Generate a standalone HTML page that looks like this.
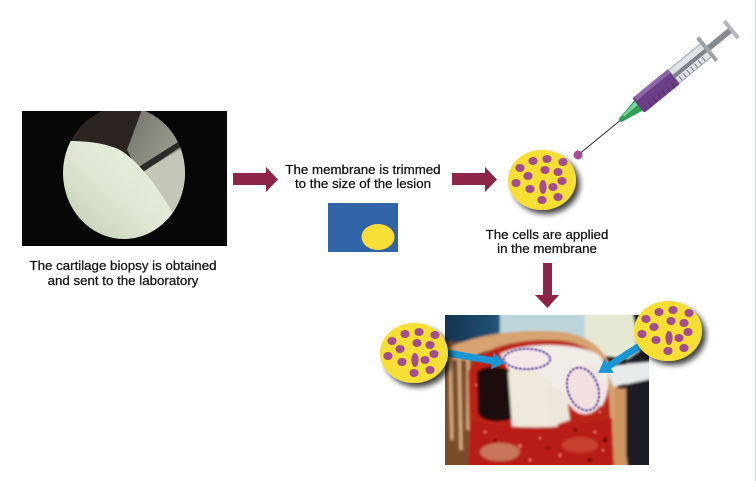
<!DOCTYPE html>
<html><head><meta charset="utf-8"><style>
html,body{margin:0;padding:0;background:#fff;}
svg{display:block;}
text{font-family:"Liberation Sans",sans-serif;font-size:13.3px;fill:#111;stroke:#111;stroke-width:0.25px;}
</style></head><body>
<svg width="756" height="481" viewBox="0 0 756 481" xmlns="http://www.w3.org/2000/svg">
<defs>
  <filter id="sh" x="-40%" y="-40%" width="190%" height="190%">
    <feGaussianBlur in="SourceAlpha" stdDeviation="3"/>
    <feOffset dx="4" dy="4" result="o"/>
    <feComponentTransfer><feFuncA type="linear" slope="0.75"/></feComponentTransfer>
    <feMerge><feMergeNode/><feMergeNode in="SourceGraphic"/></feMerge>
  </filter>
  <filter id="bl" x="-10%" y="-10%" width="120%" height="120%"><feGaussianBlur stdDeviation="1.2"/></filter>
  <filter id="bl2" x="-10%" y="-10%" width="120%" height="120%"><feGaussianBlur stdDeviation="0.8"/></filter>
  <g id="cells">
    <ellipse cx="0" cy="0" rx="34" ry="30" fill="#f5df34"/>
    <g fill="#a24e90">
      <ellipse cx="-9" cy="-19" rx="4.6" ry="4"/>
      <ellipse cx="5" cy="-21" rx="4.6" ry="4"/>
      <ellipse cx="21" cy="-18" rx="4.6" ry="4"/>
      <ellipse cx="-22" cy="-12" rx="4.6" ry="4"/>
      <ellipse cx="-14" cy="-4" rx="4.6" ry="4"/>
      <ellipse cx="3" cy="-10" rx="4.6" ry="4"/>
      <ellipse cx="16" cy="-8" rx="4.6" ry="4"/>
      <ellipse cx="-26" cy="3" rx="4.6" ry="4"/>
      <ellipse cx="-12" cy="9" rx="4.6" ry="4"/>
      <ellipse cx="1" cy="7" rx="3.6" ry="7"/>
      <ellipse cx="11" cy="7" rx="4.6" ry="4"/>
      <ellipse cx="20" cy="1" rx="4.6" ry="4"/>
      <ellipse cx="0" cy="20" rx="4.6" ry="4"/>
      <ellipse cx="16" cy="17" rx="4.6" ry="4"/>
    </g>
  </g>
  <linearGradient id="gc" x1="1" y1="0" x2="0" y2="1">
    <stop offset="0" stop-color="#eef2e4"/><stop offset="0.45" stop-color="#e0e7d4"/><stop offset="1" stop-color="#b5c4a4"/>
  </linearGradient>
  <linearGradient id="gi" x1="0" y1="0" x2="1" y2="1">
    <stop offset="0" stop-color="#707068"/><stop offset="0.5" stop-color="#9a9b8e"/><stop offset="1" stop-color="#c4c7b6"/>
  </linearGradient>
  <linearGradient id="gd" x1="0" y1="0" x2="1" y2="0">
    <stop offset="0" stop-color="#13304a"/><stop offset="1" stop-color="#22567a"/>
  </linearGradient>
  <clipPath id="r1"><rect x="22" y="111" width="205" height="135"/></clipPath>
  <clipPath id="e1"><ellipse cx="124" cy="173" rx="61" ry="66"/></clipPath>
  <clipPath id="r2"><rect x="445" y="315" width="204" height="150"/></clipPath>
</defs>

<!-- right border line -->
<rect x="755" y="0" width="1" height="481" fill="#c9d5de"/>

<!-- Photo 1: arthroscopy -->
<rect x="22" y="111" width="205" height="135" fill="#060607"/>
<g clip-path="url(#r1)">
  <g clip-path="url(#e1)">
    <rect x="55" y="100" width="140" height="160" fill="#2c2420"/>
    <path d="M144,104 L200,104 L200,240 L172,232 L127,150 Z" fill="url(#gi)"/>
    <path d="M140,173 L200,138 L200,240 L172,232 Z" fill="#c4c7b8"/>
    <path d="M137,168 L186,137 L188,142 L140,174 Z" fill="#2a2a26"/>
    <path d="M50,141 L70,141 C90,141 108,144 120,150 C140,162 160,190 178,222 L180,260 L50,260 Z" fill="url(#gc)"/>
    <path d="M58,196 L64,200 L60,203 Z" fill="#e6ecdc"/>
  </g>
</g>
<text x="123" y="270" text-anchor="middle">The cartilage biopsy is obtained</text>
<text x="123" y="285" text-anchor="middle">and sent to the laboratory</text>

<!-- Arrow 1 -->
<polygon points="233,173 266,173 266,167 278,179.5 266,192 266,185 233,185" fill="#8c2549"/>

<!-- Membrane -->
<text x="363" y="174" text-anchor="middle">The membrane is trimmed</text>
<text x="363" y="188" text-anchor="middle">to the size of the lesion</text>
<rect x="328" y="203" width="70" height="49" fill="#3064a6"/>
<ellipse cx="378" cy="237" rx="16.5" ry="13" fill="#f7dd34"/>

<!-- Arrow 2 -->
<polygon points="452,173 485,173 485,167 497,179.5 485,192 485,185 452,185" fill="#8c2549"/>

<!-- Cells circle -->
<use href="#cells" transform="translate(542,180)" filter="url(#sh)"/>

<!-- Syringe -->
<g transform="translate(578,155) rotate(-39.3)">
  <line x1="4" y1="0" x2="56" y2="0" stroke="#2a2a2a" stroke-width="1"/>
  <polygon points="54,-2 70,-5 80,-7 80,7 70,5 54,2" fill="#2f9e58"/>
  <polygon points="60,-2.5 78,-5 78,-1 60,-0.5" fill="#7fd39a"/>
  <rect x="78" y="-9.5" width="46" height="19" rx="2" fill="#6b3e86"/>
  <rect x="80" y="-9.5" width="44" height="4.5" fill="#8c66a6"/>
  <g stroke="#4a2a5e" stroke-width="0.8">
    <line x1="88" y1="4" x2="88" y2="9"/><line x1="94" y1="4" x2="94" y2="9"/><line x1="100" y1="4" x2="100" y2="9"/><line x1="106" y1="4" x2="106" y2="9"/><line x1="112" y1="4" x2="112" y2="9"/><line x1="118" y1="4" x2="118" y2="9"/>
  </g>
  <rect x="124" y="-8.5" width="43" height="17" fill="#dfe3e8" stroke="#8f96a0" stroke-width="0.8"/>
  <rect x="124" y="-2" width="43" height="4" fill="#7d828a"/>
  <g stroke="#555b66" stroke-width="0.8">
    <line x1="128" y1="3" x2="128" y2="8"/><line x1="133" y1="3" x2="133" y2="8"/><line x1="138" y1="3" x2="138" y2="8"/><line x1="143" y1="3" x2="143" y2="8"/><line x1="148" y1="3" x2="148" y2="8"/><line x1="153" y1="3" x2="153" y2="8"/><line x1="158" y1="3" x2="158" y2="8"/>
  </g>
  <rect x="165" y="-15" width="4" height="30" fill="#9ea3a8"/>
  <rect x="169" y="-3" width="28" height="6" fill="#868a90"/>
  <rect x="196" y="-11" width="4" height="22" fill="#b3b7bc"/>
</g>
<circle cx="578" cy="155" r="4.5" fill="#a24e90"/>

<text x="547" y="239" text-anchor="middle">The cells are applied</text>
<text x="547" y="253" text-anchor="middle">in the membrane</text>

<!-- Down arrow -->
<polygon points="543,263 552,263 552,295 559,295 547.5,308 535,295 543,295" fill="#8c2549"/>

<!-- Photo 2: surgery -->
<g clip-path="url(#r2)">
  <rect x="445" y="315" width="204" height="150" fill="#2a1512"/>
  <g filter="url(#bl)">
    <polygon points="440,310 503,310 503,338 440,346" fill="url(#gd)"/>
    <polygon points="500,310 592,310 592,340 500,342" fill="#bcd5dc"/>
    <polygon points="585,310 640,310 646,330 640,360 600,356 585,340" fill="#e6e9d4"/>
    <polygon points="632,310 655,310 655,470 626,470 626,360 640,350" fill="#1c1e26"/>
    <!-- left skin fold -->
    <rect x="440" y="342" width="36" height="130" fill="#7a4e2c"/>
    <g stroke="#d8b183" stroke-width="3">
      <line x1="450" y1="355" x2="452" y2="440"/>
      <line x1="459" y1="350" x2="461" y2="450"/>
      <line x1="468" y1="350" x2="468" y2="430"/>
    </g>
    <!-- tan skin arc -->
    <path d="M440,352 C470,336 505,330 550,331 C585,332 605,345 616,378 L628,470 L612,470 L604,380 C596,355 575,344 545,343 C505,343 480,352 470,360 L445,360 Z" fill="#d7a371"/>
    <!-- red mass -->
    <path d="M470,470 L468,372 C474,352 505,340 548,340 C585,340 600,354 608,380 L614,470 Z" fill="#bb2219"/>
    <!-- dark cavity -->
    <path d="M477,372 C485,364 505,366 512,372 L514,418 C500,424 484,422 478,414 Z" fill="#1c0808"/>
    <!-- cartilage top -->
    <path d="M500,354 C518,344 568,340 598,354 C612,370 610,392 602,406 L562,404 L516,382 Z" fill="#f2ece6"/>
    <!-- left condyle -->
    <path d="M508,372 C528,364 552,374 556,394 L558,430 C546,442 520,440 512,426 Z" fill="#efe9dc"/>
    <!-- right condyle -->
    <ellipse cx="585" cy="389" rx="20" ry="25" fill="#f3e6e2"/>
    <!-- small white piece -->
    <path d="M547,385 L566,392 L570,420 L552,426 Z" fill="#ece6dc"/>
    <!-- lower red -->
    <path d="M470,420 C500,428 560,432 612,418 L614,470 L468,470 Z" fill="#b81d18"/>
    <ellipse cx="500" cy="452" rx="20" ry="9" fill="#c9765c"/>
    <ellipse cx="580" cy="445" rx="18" ry="8" fill="#c8402e"/>
    <!-- instrument -->
    <polygon points="604,366 649,362 655,362 655,378 614,387" fill="#e6eaea"/>
    <rect x="614" y="388" width="12" height="82" fill="#cf9464"/>
  </g>
  <!-- mottling -->
  <g filter="url(#bl2)">
    <g fill="#e06a5a" opacity="0.8">
      <circle cx="485" cy="432" r="2"/><circle cx="520" cy="446" r="2.5"/><circle cx="540" cy="438" r="1.8"/>
      <circle cx="560" cy="455" r="2.2"/><circle cx="595" cy="432" r="2"/><circle cx="603" cy="450" r="1.8"/>
      <circle cx="476" cy="385" r="1.6"/><circle cx="600" cy="412" r="1.8"/><circle cx="530" cy="460" r="2"/>
    </g>
    <g fill="#5a0a08" opacity="0.8">
      <circle cx="575" cy="430" r="1.8"/><circle cx="590" cy="460" r="2.2"/><circle cx="605" cy="440" r="2.5"/>
      <circle cx="548" cy="448" r="1.5"/><circle cx="495" cy="440" r="1.5"/>
    </g>
  </g>
  <g filter="url(#bl2)">
    <ellipse cx="527" cy="359" rx="23" ry="10" fill="#f5e6e8" stroke="#5a3aa0" stroke-width="2" stroke-dasharray="3 1"/>
    <ellipse cx="583" cy="389" rx="15" ry="22" transform="rotate(-20 583 389)" fill="#f2dfe2" stroke="#5a3aa0" stroke-width="2" stroke-dasharray="3 1"/>
  </g>
</g>

<!-- Blue arrows -->
<g transform="translate(447,353) rotate(9.8)">
  <polygon points="0,-3.5 46,-3.5 46,-8.5 59,0 46,8.5 46,3.5 0,3.5" fill="#1b96d5"/>
</g>
<g transform="translate(641,345) rotate(146.9)">
  <polygon points="0,-3.5 38,-3.5 38,-8.5 51,0 38,8.5 38,3.5 0,3.5" fill="#1b96d5"/>
</g>

<!-- Cells on photo -->
<use href="#cells" transform="translate(414,353)" filter="url(#sh)"/>
<use href="#cells" transform="translate(668,331)" filter="url(#sh)"/>
</svg>
</body></html>
